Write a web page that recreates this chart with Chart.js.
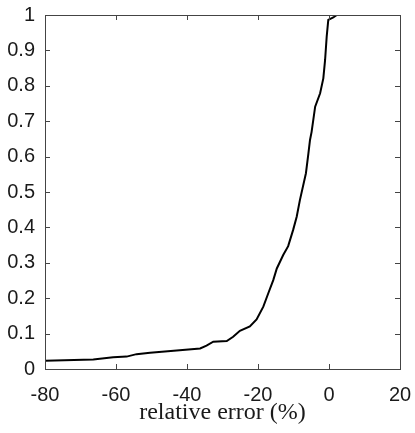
<!DOCTYPE html>
<html>
<head>
<meta charset="utf-8">
<script src="https://cdn.jsdelivr.net/npm/chart.js@4/dist/chart.umd.min.js"></script>
<style>
  html, body { margin: 0; padding: 0; background: #fff; }
  #wrap { width: 415px; height: 433px; }
</style>
</head>
<body>
<div id="wrap"><canvas id="c" width="415" height="433"></canvas></div>
<script>
const errX = [-80, -66.4, -60.8, -57.0, -54.2, -50.4, -42.9, -36.3, -34.5, -32.6, -28.8, -27.0, -25.1, -22.3, -20.4, -18.5, -17.1, -15.7, -14.7, -12.9, -11.5, -10.1, -9.1, -8.2, -6.5, -5.8, -5.35, -4.9, -3.9, -2.5, -1.6, -1.1, -0.65, -0.2, 0.8, 1.2, 2.2];
const cdfY = [0.023, 0.027, 0.033, 0.035, 0.042, 0.046, 0.052, 0.058, 0.066, 0.077, 0.079, 0.091, 0.108, 0.120, 0.140, 0.176, 0.214, 0.251, 0.284, 0.322, 0.347, 0.393, 0.430, 0.477, 0.553, 0.609, 0.647, 0.670, 0.741, 0.779, 0.821, 0.873, 0.939, 0.986, 0.991, 0.993, 1.0];
const xTicks = [-80, -60, -40, -20, 0, 20];
const yTicks = [0, 0.1, 0.2, 0.3, 0.4, 0.5, 0.6, 0.7, 0.8, 0.9, 1];
const xTitle = 'relative error (%)';

const points = errX.map((x, i) => ({ x: x, y: cdfY[i] }));

const framePlugin = {
  id: 'frame',
  afterDatasetsDraw(chart) {
    const { ctx, chartArea: a, scales } = chart;
    const len = 5;
    ctx.save();
    ctx.strokeStyle = '#444';
    ctx.lineWidth = 1;
    ctx.beginPath();
    xTicks.forEach(v => {
      const px = Math.round(scales.x.getPixelForValue(v)) + 0.5;
      ctx.moveTo(px, a.bottom); ctx.lineTo(px, a.bottom - len);
      ctx.moveTo(px, a.top); ctx.lineTo(px, a.top + len);
    });
    yTicks.forEach(v => {
      const py = Math.round(scales.y.getPixelForValue(v)) + 0.5;
      ctx.moveTo(a.left, py); ctx.lineTo(a.left + len, py);
      ctx.moveTo(a.right, py); ctx.lineTo(a.right - len, py);
    });
    ctx.stroke();
    ctx.strokeRect(Math.round(a.left) + 0.5, Math.round(a.top) + 0.5,
                   Math.round(a.right - a.left), Math.round(a.bottom - a.top));
    ctx.restore();
  }
};

new Chart(document.getElementById('c'), {
  type: 'line',
  data: {
    datasets: [{
      data: points,
      borderColor: '#000',
      borderWidth: 2,
      pointRadius: 0,
      tension: 0,
      fill: false
    }]
  },
  options: {
    responsive: false,
    animation: false,
    layout: { padding: { left: 0, right: 15, top: 15, bottom: 0 } },
    plugins: { legend: { display: false }, tooltip: { enabled: false } },
    scales: {
      x: {
        type: 'linear',
        min: -80, max: 20,
        afterBuildTicks: s => { s.ticks = xTicks.map(v => ({ value: v })); },
        afterFit: s => { s.height = 64; s.paddingLeft = 0; s.paddingRight = 0; },
        grid: { display: false, drawTicks: false },
        border: { display: false },
        ticks: {
          padding: 14,
          color: '#1a1a1a',
          font: { family: '"Liberation Sans", Arial, sans-serif', size: 20 },
          maxRotation: 0,
          callback: v => String(v)
        },
        title: {
          display: true,
          text: xTitle,
          color: '#1a1a1a',
          font: { family: '"Liberation Serif", "Times New Roman", serif', size: 24 },
          padding: { top: 0, bottom: 6 }
        }
      },
      y: {
        type: 'linear',
        min: 0, max: 1,
        afterBuildTicks: s => { s.ticks = yTicks.map(v => ({ value: v })); },
        afterFit: s => { s.width = 45; s.paddingTop = 0; s.paddingBottom = 0; },
        grid: { display: false, drawTicks: false },
        border: { display: false },
        ticks: {
          padding: 10,
          color: '#1a1a1a',
          font: { family: '"Liberation Sans", Arial, sans-serif', size: 20 },
          callback: v => String(+Number(v).toFixed(1))
        }
      }
    }
  },
  plugins: [framePlugin]
});
</script>
</body>
</html>
